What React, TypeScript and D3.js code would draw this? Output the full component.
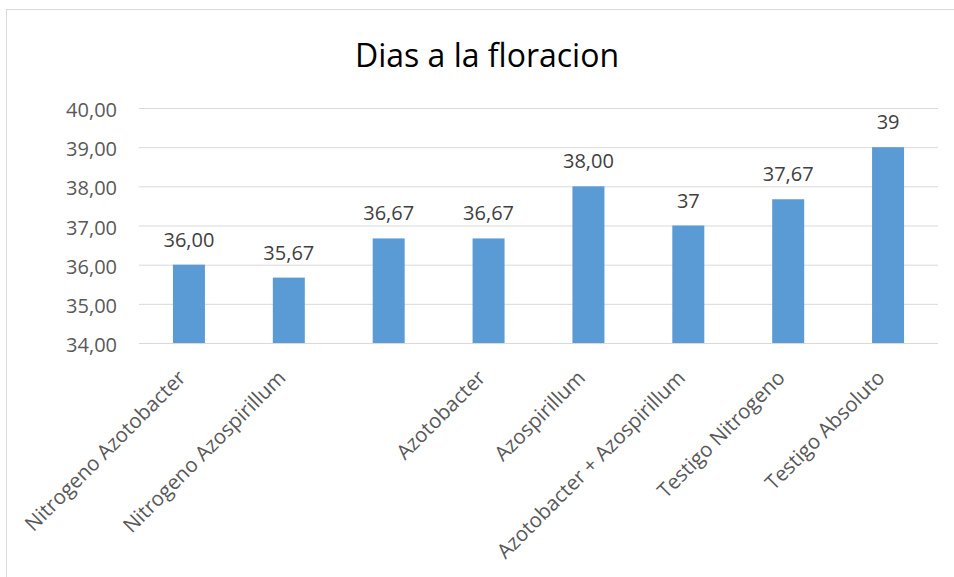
import * as d3 from 'd3';
import { useEffect, useRef } from 'react';

const categories = [
    'Nitrogeno Azotobacter',
    'Nitrogeno Azospirillum',
    '',
    'Azotobacter',
    'Azospirillum',
    'Azotobacter + Azospirillum',
    'Testigo Nitrogeno',
    'Testigo Absoluto',
];
const values = [36.0, 35.67, 36.67, 36.67, 38.0, 37.0, 37.67, 39.0];
const valueLabels = ['36,00', '35,67', '36,67', '36,67', '38,00', '37', '37,67', '39'];
const yTicks = [34, 35, 36, 37, 38, 39, 40];

export default function App() {
    const ref = useRef<SVGSVGElement | null>(null);

    useEffect(() => {
        document.body.style.margin = '0';
        const svg = d3.select(ref.current);
        svg.selectAll('*').remove();

        const width = 954;
        const height = 577;
        const margin = { top: 108, right: 16, bottom: 234, left: 139 };
        const font = '"Open Sans", sans-serif';

        svg.attr('width', width).attr('height', height);

        svg.append('rect')
            .attr('x', 6.5).attr('y', 9.5)
            .attr('width', 980).attr('height', 620)
            .attr('fill', '#fff')
            .attr('stroke', '#d9d9d9');

        const x = d3.scaleBand<number>()
            .domain(d3.range(categories.length))
            .range([margin.left, width - margin.right])
            .padding(0);

        const y = d3.scaleLinear()
            .domain([34, 40])
            .range([height - margin.bottom, margin.top]);

        svg.append('text')
            .attr('x', 487).attr('y', 67)
            .attr('text-anchor', 'middle')
            .attr('font-family', font)
            .attr('font-size', 32)
            .attr('fill', '#000')
            .text('Dias a la floracion');

        svg.append('g')
            .selectAll('line')
            .data(yTicks)
            .join('line')
            .attr('x1', margin.left).attr('x2', width - margin.right)
            .attr('y1', d => y(d) + 0.5).attr('y2', d => y(d) + 0.5)
            .attr('stroke', '#d9d9d9');

        svg.append('g')
            .selectAll('text')
            .data(yTicks)
            .join('text')
            .attr('x', 117)
            .attr('y', d => y(d) + 9)
            .attr('text-anchor', 'end')
            .attr('font-family', font)
            .attr('font-size', 20)
            .attr('fill', '#595959')
            .text(d => d3.format('.2f')(d).replace('.', ','));

        const barW = 32;
        svg.append('g')
            .selectAll('rect')
            .data(values)
            .join('rect')
            .attr('x', (d, i) => x(i)! + x.bandwidth() / 2 - barW / 2)
            .attr('width', barW)
            .attr('y', d => y(d))
            .attr('height', d => y(34) - y(d))
            .attr('fill', '#5b9bd5');

        svg.append('g')
            .selectAll('text')
            .data(values)
            .join('text')
            .attr('x', (d, i) => x(i)! + x.bandwidth() / 2)
            .attr('y', d => y(d) - 18)
            .attr('text-anchor', 'middle')
            .attr('font-family', font)
            .attr('font-size', 20)
            .attr('fill', '#404040')
            .text((d, i) => valueLabels[i]);

        svg.append('g')
            .selectAll('text')
            .data(categories)
            .join('text')
            .attr('transform', (d, i) => `translate(${x(i)! + x.bandwidth() / 2 - 2},${y(34) + 36}) rotate(-45)`)
            .attr('text-anchor', 'end')
            .attr('font-family', font)
            .attr('font-size', 20.5)
            .attr('fill', '#595959')
            .text(d => d);
    }, []);

    return <svg ref={ref} style={{ display: 'block' }}></svg>;
}
